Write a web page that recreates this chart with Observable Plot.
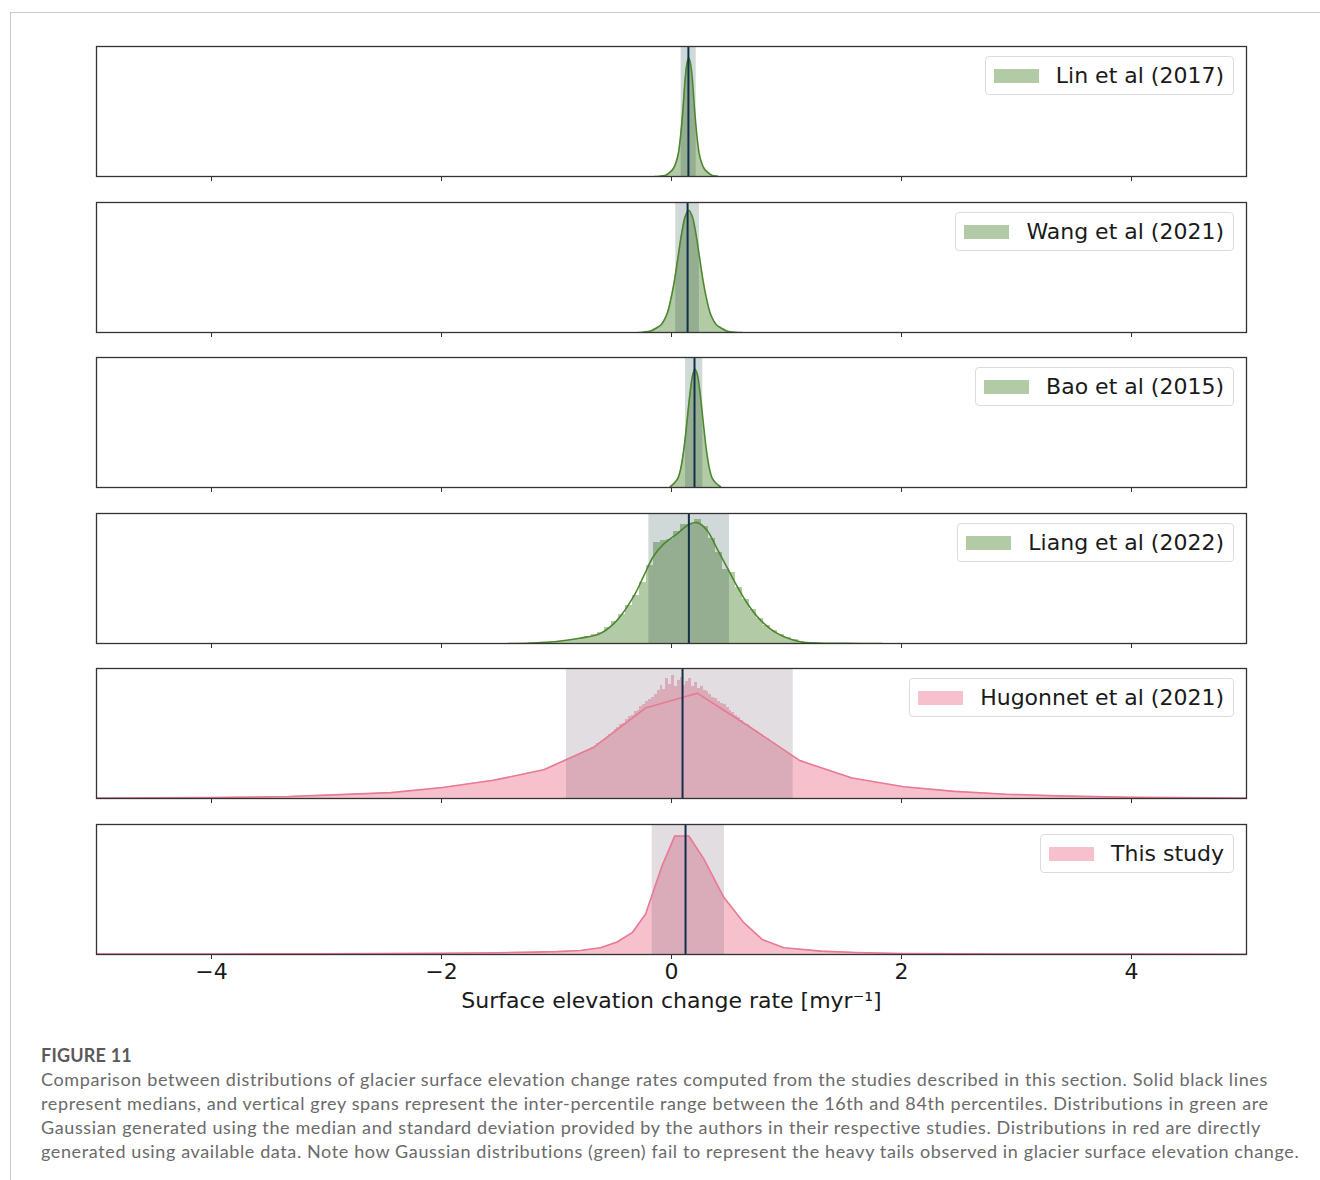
<!DOCTYPE html>
<html><head><meta charset="utf-8">
<script src="https://cdn.jsdelivr.net/npm/d3@7"></script>
<script src="https://cdn.jsdelivr.net/npm/@observablehq/plot@0.6"></script>
<style>
body{margin:0;background:#fff;}
#fig{position:relative;width:1320px;height:1180px;overflow:hidden;font-family:"DejaVu Sans";}
#border{position:absolute;left:10px;top:12px;width:1320px;height:1200px;border-top:1px solid #c9c9c9;border-left:1px solid #c9c9c9;}
.panel{position:absolute;left:0;}
.legend{position:absolute;right:86px;height:37px;border:1px solid #dcdcdc;border-radius:4px;background:rgba(255,255,255,0.85);display:flex;align-items:center;padding:0 9px 0 8px;font-size:22px;color:#1a1a1a;white-space:nowrap;}
.swatch{width:45px;height:14px;margin-right:17px;}
.caption{position:absolute;left:41px;top:1043px;font-family:Lato;color:#6a6a6a;font-size:18px;letter-spacing:0.62px;line-height:24px;white-space:nowrap;}
.caption b{color:#5a5a5a;font-weight:700;letter-spacing:0.2px;}
</style></head>
<body><div id="fig"><div id="border"></div></div>
<script>
// ---------- data ----------
const studies = ["Lin et al (2017)", "Wang et al (2021)", "Bao et al (2015)", "Liang et al (2022)", "Hugonnet et al (2021)", "This study"];
const groups = ["gaussian", "gaussian", "gaussian", "gaussian", "data", "data"];
const medians = [0.147, 0.14, 0.20, 0.151, 0.096, 0.122];
const p16 = [0.084, 0.037, 0.122, -0.197, -0.913, -0.168];
const p84 = [0.215, 0.243, 0.272, 0.504, 1.058, 0.461];
const xTicks = [-4, -2, 0, 2, 4];

// relative density (fraction of panel height)
const linX = [-0.145, -0.10, -0.05, -0.01, 0.015, 0.04, 0.06, 0.08, 0.10, 0.12, 0.135, 0.15, 0.165, 0.18, 0.20, 0.22, 0.24, 0.26, 0.285, 0.31, 0.35, 0.40, 0.405];
const linY = [0, 0.002, 0.01, 0.035, 0.06, 0.11, 0.18, 0.32, 0.52, 0.76, 0.87, 0.913, 0.87, 0.76, 0.52, 0.32, 0.18, 0.11, 0.06, 0.035, 0.01, 0.002, 0];

const wangX = [-0.287, -0.25, -0.18, -0.13, -0.09, -0.04, 0.0, 0.03, 0.06, 0.09, 0.12, 0.15, 0.18, 0.21, 0.24, 0.27, 0.30, 0.34, 0.39, 0.43, 0.48, 0.55, 0.609];
const wangY = [0, 0.002, 0.012, 0.035, 0.06, 0.14, 0.28, 0.423, 0.60, 0.77, 0.894, 0.94, 0.894, 0.77, 0.60, 0.423, 0.28, 0.14, 0.06, 0.035, 0.012, 0.002, 0];

const baoX = [-0.01, 0.025, 0.055, 0.08, 0.105, 0.125, 0.145, 0.165, 0.185, 0.205, 0.225, 0.245, 0.265, 0.285, 0.305, 0.33, 0.355, 0.385, 0.426];
const baoY = [0.006, 0.035, 0.07, 0.145, 0.278, 0.427, 0.594, 0.753, 0.868, 0.91, 0.868, 0.753, 0.594, 0.427, 0.278, 0.145, 0.07, 0.035, 0.006];

const liangX = [-1.42, -1.2, -1.0, -0.8, -0.617, -0.472, -0.328, -0.241, -0.154, -0.067, 0.049, 0.151, 0.223, 0.31, 0.397, 0.484, 0.571, 0.658, 0.774, 0.919, 1.12, 1.27, 1.5, 1.83];
const liangY = [0, 0.004, 0.015, 0.04, 0.078, 0.18, 0.364, 0.52, 0.675, 0.766, 0.844, 0.916, 0.93, 0.87, 0.727, 0.584, 0.44, 0.31, 0.18, 0.078, 0.013, 0.003, 0.001, 0];
// histogram bars, width 0.06 starting at -1.42
const liangBinH = [0.001, 0.002, 0.002, 0.004, 0.006, 0.009, 0.013, 0.018, 0.025, 0.033, 0.042, 0.054, 0.066, 0.085, 0.12, 0.17, 0.22, 0.29, 0.37, 0.47, 0.60, 0.78, 0.79, 0.80, 0.86, 0.917, 0.917, 0.952, 0.90, 0.81, 0.70, 0.57, 0.55, 0.43, 0.34, 0.26, 0.19, 0.14, 0.10, 0.07, 0.045, 0.028, 0.015, 0.008, 0.005, 0.003, 0.002, 0.0015, 0.001, 0.001, 0.0008, 0.0005, 0.0005, 0.0003];

const hugX = [-5.0, -4.0, -3.33, -2.88, -2.44, -1.99, -1.55, -1.11, -0.675, -0.226, 0.223, 0.672, 1.12, 1.57, 2.02, 2.46, 2.91, 3.36, 4.0, 5.0];
const hugY = [0.003, 0.008, 0.015, 0.03, 0.045, 0.085, 0.14, 0.221, 0.395, 0.696, 0.81, 0.556, 0.29, 0.158, 0.09, 0.055, 0.033, 0.02, 0.01, 0.003];
// histogram: coarse bins (0.05) on the shoulders, fine bins (0.025) around the mode
const hugLeftH = [0.26, 0.28, 0.30, 0.32, 0.34, 0.36, 0.39, 0.42, 0.45, 0.49];            // -1.00 .. -0.50
const hugMidH = [0.53, 0.55, 0.57, 0.58, 0.61, 0.63, 0.64, 0.67, 0.68, 0.71, 0.72, 0.75, 0.76, 0.78, 0.80, 0.83,
                 0.87, 0.84, 0.92, 0.88, 0.95, 0.86, 0.91, 0.93, 0.87, 0.90, 0.92, 0.86, 0.89, 0.85, 0.86, 0.83,
                 0.82, 0.80, 0.78, 0.77, 0.75, 0.73, 0.72, 0.70, 0.68, 0.66, 0.64, 0.62, 0.60, 0.58, 0.57, 0.55]; // -0.50 .. 0.70
const hugRightH = [0.52, 0.49, 0.46, 0.43, 0.40, 0.37, 0.34, 0.31, 0.29, 0.27];            // 0.70 .. 1.20

const thisX = [-5, -4, -3, -2, -1.5, -1.2, -1.0, -0.791, -0.617, -0.472, -0.342, -0.226, -0.081, 0.029, 0.151, 0.281, 0.455, 0.629, 0.788, 0.977, 1.3, 1.6, 2.0, 3.0, 4.0, 5.0];
const thisY = [0.003, 0.004, 0.006, 0.01, 0.014, 0.018, 0.022, 0.031, 0.052, 0.096, 0.168, 0.31, 0.685, 0.912, 0.912, 0.736, 0.44, 0.245, 0.116, 0.052, 0.026, 0.015, 0.008, 0.004, 0.003, 0.002];

// ---------- build ----------
const zip = (xs, ys) => xs.map((x, i) => ({x, y: ys[i]}));
const bins = (start, w, hs) => hs.map((h, i) => ({x1: +(start + i * w).toFixed(4), x2: +(start + (i + 1) * w).toFixed(4), y: h}));

const curves = [zip(linX, linY), zip(wangX, wangY), zip(baoX, baoY), zip(liangX, liangY), zip(hugX, hugY), zip(thisX, thisY)];
const hists = [null, null, null,
  bins(-1.42, 0.06, liangBinH),
  [...bins(-1.0, 0.05, hugLeftH), ...bins(-0.5, 0.025, hugMidH), ...bins(0.7, 0.05, hugRightH)],
  null];

const style = {
  gaussian: {fill: "#b2caa6", line: "#4a872d", span: "#2f4f4f", spanOp: 0.22, curve: "catmull-rom"},
  data: {fill: "#f6c1cd", line: "#e87a93", span: "#6e5468", spanOp: 0.2, curve: "linear"}
};
const panelTops = [46, 202, 357, 513, 668, 824];
const panelH = 130;
const fig = document.getElementById("fig");

studies.forEach((name, i) => {
  const st = style[groups[i]];
  const last = i === studies.length - 1;
  const marks = [];
  if (i !== 3) marks.push(Plot.areaY(curves[i], {x: "x", y: "y", fill: st.fill, curve: st.curve, clip: true}));
  if (hists[i]) marks.push(Plot.rectY(hists[i], {x1: "x1", x2: "x2", y: "y", fill: st.fill, shapeRendering: "crispEdges", clip: true}));
  marks.push(Plot.rect([{x1: p16[i], x2: p84[i]}], {x1: "x1", x2: "x2", fill: st.span, fillOpacity: st.spanOp}));
  marks.push(Plot.line(curves[i], {x: "x", y: "y", stroke: st.line, strokeWidth: 1.6, curve: st.curve, clip: true}));
  marks.push(Plot.ruleX([medians[i]], {stroke: "#10304a", strokeWidth: 2}));
  marks.push(Plot.frame({stroke: "#333", strokeWidth: 1.3}));
  marks.push(Plot.axisX({
    ticks: xTicks, tickSize: 5, tickPadding: 4,
    tickFormat: last ? d3.format("d") : () => "",
    label: last ? "Surface elevation change rate [myr⁻¹]" : null,
    labelAnchor: "center", labelOffset: 53, labelArrow: "none",
    fontSize: 22, stroke: "#333", fill: "#1a1a1a"
  }));
  const mb = last ? 70 : 9;
  const chart = Plot.plot({
    width: 1320, height: 1 + panelH + mb,
    marginLeft: 96, marginRight: 74, marginTop: 1, marginBottom: mb,
    x: {domain: [-5, 5]},
    y: {domain: [0, 1], axis: null},
    style: {fontFamily: "DejaVu Sans", fontSize: "22px", color: "#1a1a1a", background: "transparent", overflow: "visible"},
    marks
  });
  chart.classList.add("panel");
  chart.style.top = (panelTops[i] - 1) + "px";
  fig.appendChild(chart);

  const lg = document.createElement("div");
  lg.className = "legend";
  lg.style.top = (panelTops[i] + 10) + "px";
  const sw = document.createElement("div");
  sw.className = "swatch";
  sw.style.background = st.fill;
  const tx = document.createElement("span");
  tx.textContent = name;
  lg.append(sw, tx);
  fig.appendChild(lg);
});

const captionLines = [
  "Comparison between distributions of glacier surface elevation change rates computed from the studies described in this section. Solid black lines",
  "represent medians, and vertical grey spans represent the inter-percentile range between the 16th and 84th percentiles. Distributions in green are",
  "Gaussian generated using the median and standard deviation provided by the authors in their respective studies. Distributions in red are directly",
  "generated using available data. Note how Gaussian distributions (green) fail to represent the heavy tails observed in glacier surface elevation change."
];
const cap = document.createElement("div");
cap.className = "caption";
const h = document.createElement("b");
h.textContent = "FIGURE 11";
cap.appendChild(h);
captionLines.forEach(t => { const d = document.createElement("div"); d.textContent = t; cap.appendChild(d); });
fig.appendChild(cap);
</script>
</body></html>
